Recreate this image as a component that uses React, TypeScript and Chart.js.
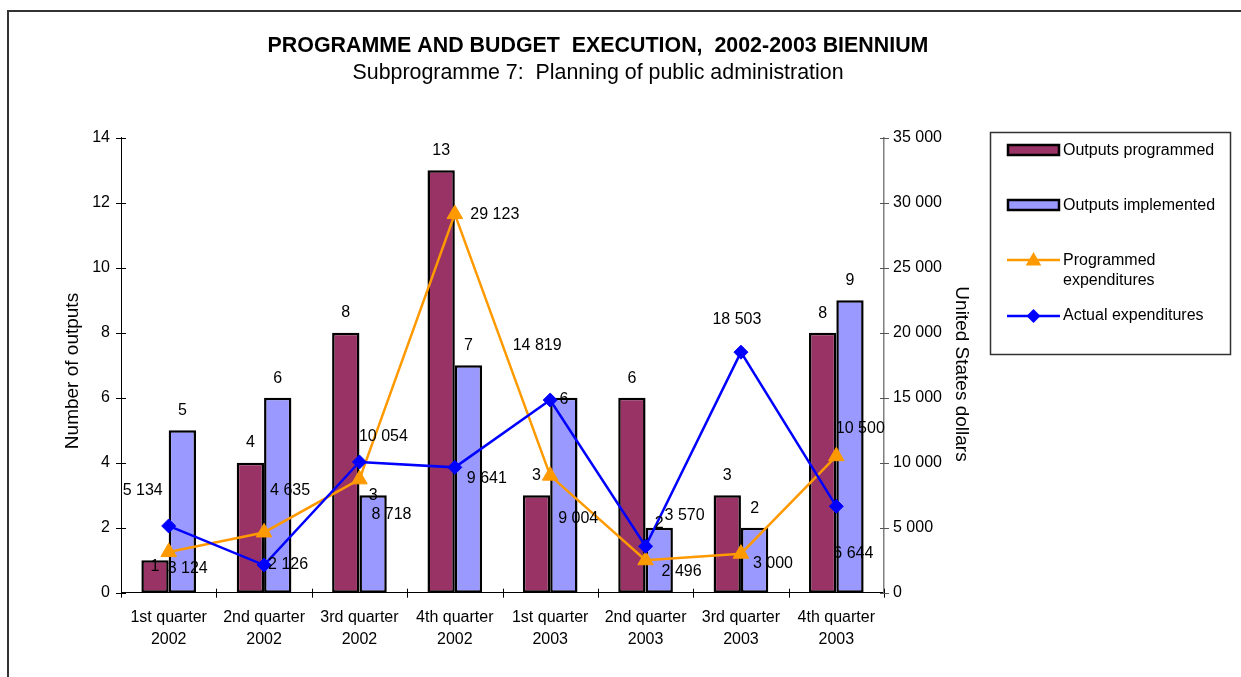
import React, { useEffect, useRef } from 'react';
import { Chart, registerables } from 'chart.js';

Chart.register(...registerables);

const FONT = '"Liberation Sans", Arial, Helvetica, sans-serif';

const chartTitle = 'PROGRAMME AND BUDGET  EXECUTION,  2002-2003 BIENNIUM';
const chartSubtitle = 'Subprogramme 7:  Planning of public administration';
const leftAxisTitle = 'Number of outputs';
const rightAxisTitle = 'United States dollars';

const categories = [
  ['1st quarter', '2002'],
  ['2nd quarter', '2002'],
  ['3rd quarter', '2002'],
  ['4th quarter', '2002'],
  ['1st quarter', '2003'],
  ['2nd quarter', '2003'],
  ['3rd quarter', '2003'],
  ['4th quarter', '2003'],
];

const seriesNames = ['Outputs programmed', 'Outputs implemented', 'Programmed expenditures', 'Actual expenditures'];

const outputsProgrammed = [1, 4, 8, 13, 3, 6, 3, 8];
const outputsImplemented = [5, 6, 3, 7, 6, 2, 2, 9];
const programmedExpenditures = [3124, 4635, 8718, 29123, 9004, 2496, 3000, 10500];
const actualExpenditures = [5134, 2126, 10054, 9641, 14819, 3570, 18503, 6644];

const leftAxisMax = 14;
const leftAxisStep = 2;
const rightAxisMax = 35000;
const rightAxisStep = 5000;

// label placement (offsets of label centre from the mark, in px)
const progBarLabelDy = [6, -20, -20, -20, -20, -19, -20, -19];
const implBarLabelDy = [-20, -19, 0, -20, 2, -4, -19, -20];
const progExpLabelOffset = [[19, 17], [26, -42], [32, 35], [40, 0], [28, 43], [36, 11], [32, 10], [24, -28]];
const actExpLabelOffset = [[-26, -35], [24, 0], [24, -25], [32, 11], [-13, -54], [39, -31], [-4, -33], [17, 47]];

const COLORS = {
  programmed: '#993366',
  implemented: '#9999FF',
  progExp: '#FF9900',
  actExp: '#0000FF',
};

const fmt = (v: number) => String(v).replace(/\B(?=(\d{3})+(?!\d))/g, ' ');

function drawTriangle(ctx: CanvasRenderingContext2D, x: number, y: number, r: number, color: string) {
  ctx.save();
  ctx.fillStyle = color;
  ctx.beginPath();
  for (let k = 0; k < 3; k++) {
    const a = (k * 2 * Math.PI) / 3;
    const px = x + Math.sin(a) * r;
    const py = y - Math.cos(a) * r;
    if (k === 0) ctx.moveTo(px, py);
    else ctx.lineTo(px, py);
  }
  ctx.closePath();
  ctx.fill();
  ctx.restore();
}

function drawDiamond(ctx: CanvasRenderingContext2D, x: number, y: number, r: number, color: string) {
  ctx.save();
  ctx.fillStyle = color;
  ctx.beginPath();
  ctx.moveTo(x, y - r);
  ctx.lineTo(x + r, y);
  ctx.lineTo(x, y + r);
  ctx.lineTo(x - r, y);
  ctx.closePath();
  ctx.fill();
  ctx.restore();
}

const overlayPlugin = {
  id: 'overlay',
  beforeDraw(chart: any) {
    const ctx = chart.ctx as CanvasRenderingContext2D;
    ctx.save();
    ctx.strokeStyle = '#333333';
    ctx.lineWidth = 2;
    ctx.beginPath();
    ctx.moveTo(8, 677);
    ctx.lineTo(8, 11);
    ctx.lineTo(1241, 11);
    ctx.stroke();
    ctx.restore();
  },
  afterDatasetsDraw(chart: any) {
    const ctx = chart.ctx as CanvasRenderingContext2D;
    const y = chart.scales.y;
    const y1 = chart.scales.y1;
    const area = chart.chartArea;
    ctx.save();
    // tick marks crossing the axes
    ctx.lineWidth = 1;
    ctx.strokeStyle = '#000';
    ctx.beginPath();
    for (let v = 0; v <= leftAxisMax; v += leftAxisStep) {
      const py = Math.round(y.getPixelForValue(v)) + 0.5;
      ctx.moveTo(area.left - 5, py);
      ctx.lineTo(area.left + 5, py);
    }
    const n = categories.length;
    for (let i = 0; i <= n; i++) {
      const px = Math.round(area.left + ((area.right - area.left) * i) / n) + 0.5;
      ctx.moveTo(px, area.bottom - 4);
      ctx.lineTo(px, area.bottom + 5);
    }
    ctx.stroke();
    ctx.strokeStyle = '#555';
    ctx.beginPath();
    for (let v = 0; v <= rightAxisMax; v += rightAxisStep) {
      const py = Math.round(y1.getPixelForValue(v)) + 0.5;
      ctx.moveTo(area.right - 4, py);
      ctx.lineTo(area.right + 5, py);
    }
    ctx.stroke();

    // data labels
    ctx.fillStyle = '#000';
    ctx.font = `16px ${FONT}`;
    ctx.textAlign = 'center';
    ctx.textBaseline = 'middle';
    chart.getDatasetMeta(0).data.forEach((el: any, i: number) => {
      ctx.fillText(String(outputsProgrammed[i]), el.x, el.y + progBarLabelDy[i]);
    });
    chart.getDatasetMeta(1).data.forEach((el: any, i: number) => {
      ctx.fillText(String(outputsImplemented[i]), el.x, el.y + implBarLabelDy[i]);
    });
    chart.getDatasetMeta(2).data.forEach((el: any, i: number) => {
      const [dx, dy] = progExpLabelOffset[i];
      ctx.fillText(fmt(programmedExpenditures[i]), el.x + dx, el.y + dy);
    });
    chart.getDatasetMeta(3).data.forEach((el: any, i: number) => {
      const [dx, dy] = actExpLabelOffset[i];
      ctx.fillText(fmt(actualExpenditures[i]), el.x + dx, el.y + dy);
    });
    ctx.restore();
  },
  afterDraw(chart: any) {
    const ctx = chart.ctx as CanvasRenderingContext2D;
    ctx.save();
    ctx.fillStyle = '#000';
    ctx.textAlign = 'center';
    ctx.textBaseline = 'middle';
    ctx.font = `bold 21.4px ${FONT}`;
    ctx.fillText(chartTitle, 598, 46);
    ctx.font = `21.4px ${FONT}`;
    ctx.fillText(chartSubtitle, 598, 73);

    // axis titles
    ctx.font = `19px ${FONT}`;
    ctx.save();
    ctx.translate(72.5, 371);
    ctx.rotate(-Math.PI / 2);
    ctx.fillText(leftAxisTitle, 0, 0);
    ctx.restore();
    ctx.save();
    ctx.translate(961, 374);
    ctx.rotate(Math.PI / 2);
    ctx.fillText(rightAxisTitle, 0, 0);
    ctx.restore();

    // legend
    ctx.strokeStyle = '#333333';
    ctx.lineWidth = 1.5;
    ctx.strokeRect(990.5, 132.5, 240, 222);
    ctx.font = `16px ${FONT}`;
    ctx.textAlign = 'left';
    ctx.lineWidth = 2.5;
    ctx.strokeStyle = '#000';
    // bar swatches
    ctx.fillStyle = COLORS.programmed;
    ctx.fillRect(1008, 145, 51, 10);
    ctx.strokeRect(1008, 145, 51, 10);
    ctx.fillStyle = COLORS.implemented;
    ctx.fillRect(1008, 200, 51, 10);
    ctx.strokeRect(1008, 200, 51, 10);
    ctx.fillStyle = '#000';
    ctx.fillText(seriesNames[0], 1063, 151);
    ctx.fillText(seriesNames[1], 1063, 206);
    // line swatches
    ctx.lineWidth = 2.5;
    ctx.strokeStyle = COLORS.progExp;
    ctx.beginPath();
    ctx.moveTo(1007, 260);
    ctx.lineTo(1060, 260);
    ctx.stroke();
    drawTriangle(ctx, 1033.5, 261, 9, COLORS.progExp);
    ctx.strokeStyle = COLORS.actExp;
    ctx.beginPath();
    ctx.moveTo(1007, 316);
    ctx.lineTo(1060, 316);
    ctx.stroke();
    drawDiamond(ctx, 1033.5, 316, 7, COLORS.actExp);
    ctx.fillStyle = '#000';
    ctx.fillText('Programmed', 1063, 261);
    ctx.fillText('expenditures', 1063, 281);
    ctx.fillText(seriesNames[3], 1063, 316);
    ctx.restore();
  },
};

export default function App() {
  const canvasRef = useRef<HTMLCanvasElement | null>(null);

  useEffect(() => {
    const canvas = canvasRef.current;
    if (!canvas) return;
    const tickFont = { size: 16, family: FONT };
    const chart = new Chart(canvas, {
      type: 'bar',
      data: {
        labels: categories,
        datasets: [
          {
            type: 'bar',
            label: seriesNames[0],
            data: outputsProgrammed,
            yAxisID: 'y',
            backgroundColor: COLORS.programmed,
            borderColor: '#000',
            borderWidth: 2.5,
            borderSkipped: false,
            categoryPercentage: 0.573,
            barPercentage: 1,
            order: 2,
          },
          {
            type: 'bar',
            label: seriesNames[1],
            data: outputsImplemented,
            yAxisID: 'y',
            backgroundColor: COLORS.implemented,
            borderColor: '#000',
            borderWidth: 2.5,
            borderSkipped: false,
            categoryPercentage: 0.573,
            barPercentage: 1,
            order: 3,
          },
          {
            type: 'line',
            label: seriesNames[2],
            data: programmedExpenditures,
            yAxisID: 'y1',
            borderColor: COLORS.progExp,
            backgroundColor: COLORS.progExp,
            borderWidth: 2.5,
            pointStyle: 'triangle',
            pointRadius: 9,
            pointBorderWidth: 1,
            pointBackgroundColor: COLORS.progExp,
            pointBorderColor: COLORS.progExp,
            tension: 0,
            fill: false,
            order: 1,
          },
          {
            type: 'line',
            label: seriesNames[3],
            data: actualExpenditures,
            yAxisID: 'y1',
            borderColor: COLORS.actExp,
            backgroundColor: COLORS.actExp,
            borderWidth: 2.5,
            pointStyle: 'rectRot',
            pointRadius: 7,
            pointBorderWidth: 1,
            pointBackgroundColor: COLORS.actExp,
            pointBorderColor: COLORS.actExp,
            tension: 0,
            fill: false,
            order: 0,
          },
        ] as any,
      },
      options: {
        responsive: false,
        animation: false,
        events: [],
        layout: { padding: { left: 50, right: 267, top: 137.7, bottom: 0 } },
        plugins: {
          legend: { display: false },
          tooltip: { enabled: false },
          title: { display: false },
        },
        scales: {
          x: {
            offset: true,
            grid: { display: false, drawTicks: false },
            border: { display: true, color: '#000', width: 1 },
            ticks: {
              color: '#000',
              font: { ...tickFont, lineHeight: 1.375 },
              padding: 13.6,
              maxRotation: 0,
              autoSkip: false,
            },
            afterFit: (s: any) => {
              s.height = 84.3;
            },
          },
          y: {
            position: 'left',
            min: 0,
            max: leftAxisMax,
            grid: { display: false, drawTicks: false },
            border: { display: true, color: '#000', width: 1 },
            ticks: { stepSize: leftAxisStep, color: '#000', font: tickFont, padding: 11 },
            afterFit: (s: any) => {
              s.width = 71;
            },
          },
          y1: {
            position: 'right',
            min: 0,
            max: rightAxisMax,
            grid: { display: false, drawTicks: false },
            border: { display: true, color: '#808080', width: 1.5 },
            ticks: {
              stepSize: rightAxisStep,
              color: '#000',
              font: tickFont,
              padding: 9,
              callback: (v: any) => fmt(Number(v)),
            },
            afterFit: (s: any) => {
              s.width = 90;
            },
          },
        },
      } as any,
      plugins: [overlayPlugin],
    });
    return () => {
      chart.destroy();
    };
  }, []);

  return (
    <div style={{ position: 'absolute', left: 0, top: 0, width: 1241, height: 677, background: '#fff' }}>
      <canvas ref={canvasRef} width={1241} height={677} style={{ display: 'block' }} />
    </div>
  );
}
